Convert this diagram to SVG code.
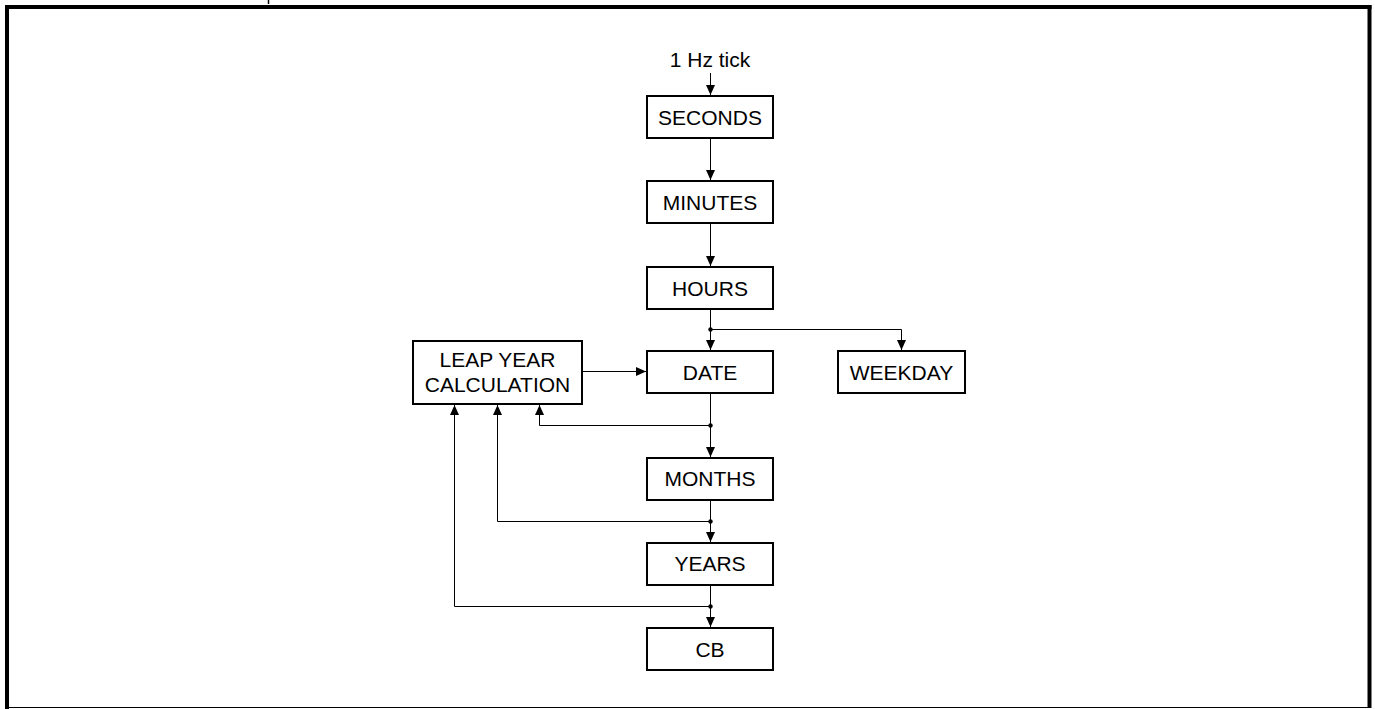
<svg xmlns="http://www.w3.org/2000/svg" width="1375" height="709" viewBox="0 0 1375 709">
<style>
.box{fill:#fff;stroke:#000;stroke-width:2}
.lbl{font-family:"Liberation Sans",Arial,sans-serif;font-size:21px;fill:#000;text-anchor:middle}
.ln{fill:none;stroke:#000;stroke-width:1}
.arr{marker-end:url(#ah)}
.dot{fill:#000}
.frame{stroke:#000;fill:none}
</style>
<defs>
<marker id="ah" viewBox="0 0 10 10" refX="10" refY="5" markerWidth="10" markerHeight="10" orient="auto" markerUnits="userSpaceOnUse">
<path d="M0,0.5 L10,5 L0,9.5 z" fill="#000"/>
</marker>
</defs>
<rect width="1375" height="709" fill="#fff"/>
<g id="frame">
<line class="frame" x1="268.5" y1="0" x2="268.5" y2="4" stroke-width="1.5" stroke="#333"/>
<line class="frame" x1="5" y1="7" x2="1371.5" y2="7" stroke-width="4"/>
<line class="frame" x1="7" y1="5" x2="7" y2="709" stroke-width="4"/>
<line class="frame" x1="1369.5" y1="5" x2="1369.5" y2="707" stroke-width="4"/>
<line class="frame" x1="7" y1="707.5" x2="1371.5" y2="707.5" stroke-width="1.2"/>
</g>
<g id="connectors">
<path class="ln arr" d="M710.5,73 V95"/>
<path class="ln arr" d="M710.5,138 V180"/>
<path class="ln arr" d="M710.5,223 V266"/>
<path class="ln arr" d="M710.5,309 V350"/>
<path class="ln arr" d="M710.5,329.5 H901.5 V350"/>
<path class="ln arr" d="M583,371.5 H646"/>
<path class="ln arr" d="M710.5,393 V457"/>
<path class="ln arr" d="M710.5,425.5 H539.5 V405"/>
<path class="ln arr" d="M710.5,500 V542"/>
<path class="ln arr" d="M710.5,521.5 H497.5 V405"/>
<path class="ln arr" d="M710.5,585 V627"/>
<path class="ln arr" d="M710.5,606.5 H454.5 V405"/>
<circle class="dot" cx="710.5" cy="329.5" r="2.2"/>
<circle class="dot" cx="710.5" cy="425.5" r="2.2"/>
<circle class="dot" cx="710.5" cy="521.5" r="2.2"/>
<circle class="dot" cx="710.5" cy="606.5" r="2.2"/>
</g>
<g id="tick"><text class="lbl" x="710" y="67">1 Hz tick</text></g>
<g id="seconds"><rect class="box" x="647" y="96" width="126" height="42"/><text class="lbl" x="710" y="124.5">SECONDS</text></g>
<g id="minutes"><rect class="box" x="647" y="181" width="126" height="42"/><text class="lbl" x="710" y="209.5">MINUTES</text></g>
<g id="hours"><rect class="box" x="647" y="267" width="126" height="42"/><text class="lbl" x="710" y="295.5">HOURS</text></g>
<g id="date"><rect class="box" x="647" y="351" width="126" height="42"/><text class="lbl" x="710" y="379.5">DATE</text></g>
<g id="weekday"><rect class="box" x="838" y="351" width="127" height="42"/><text class="lbl" x="901.5" y="379.5">WEEKDAY</text></g>
<g id="leapyear"><rect class="box" x="413" y="341" width="169" height="63"/><text class="lbl" x="497.5" y="367">LEAP YEAR</text><text class="lbl" x="497.5" y="392">CALCULATION</text></g>
<g id="months"><rect class="box" x="647" y="458" width="126" height="42"/><text class="lbl" x="710" y="485.5">MONTHS</text></g>
<g id="years"><rect class="box" x="647" y="543" width="126" height="42"/><text class="lbl" x="710" y="571">YEARS</text></g>
<g id="cb"><rect class="box" x="647" y="628" width="126" height="42"/><text class="lbl" x="710" y="656.5">CB</text></g>
</svg>
